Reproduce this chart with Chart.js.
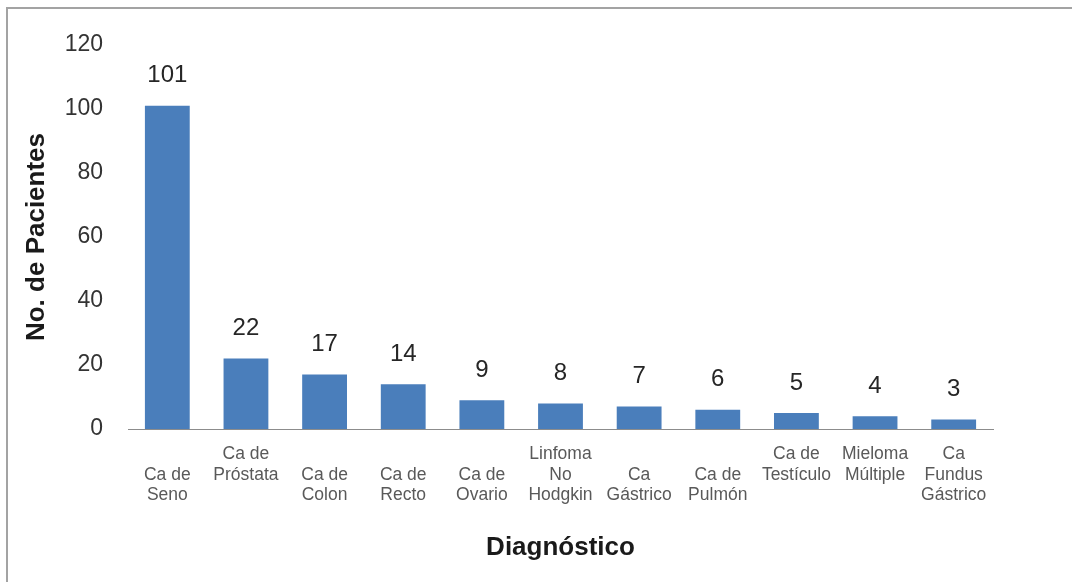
<!DOCTYPE html>
<html>
<head>
<meta charset="utf-8">
<script src="https://cdn.jsdelivr.net/npm/chart.js@4"></script>
<style>
  html, body { margin: 0; padding: 0; background: #ffffff; overflow: hidden; }
  #frame { position: absolute; left: 6px; top: 7px; width: 1200px; height: 700px;
           border-top: 2px solid #a3a3a3; border-left: 2px solid #a3a3a3; }
  #c { position: absolute; left: 0; top: 0; }
</style>
</head>
<body>
<div id="frame"></div>
<canvas id="c" width="1072" height="582"></canvas>
<script>
// ---- data ----
const categories = [
  ["", "Ca de", "Seno"],
  ["Ca de", "Próstata", ""],
  ["", "Ca de", "Colon"],
  ["", "Ca de", "Recto"],
  ["", "Ca de", "Ovario"],
  ["Linfoma", "No", "Hodgkin"],
  ["", "Ca", "Gástrico"],
  ["", "Ca de", "Pulmón"],
  ["Ca de", "Testículo", ""],
  ["Mieloma", "Múltiple", ""],
  ["Ca", "Fundus", "Gástrico"]
];
const patients = [101, 22, 17, 14, 9, 8, 7, 6, 5, 4, 3];
const yTickValues = [0, 20, 40, 60, 80, 100, 120];
const xTitle = "Diagnóstico";
const yTitle = "No. de Pacientes";

const FONT = "'Liberation Sans', Arial, Helvetica, sans-serif";

const valueLabels = {
  id: 'valueLabels',
  afterDatasetsDraw(chart) {
    const ctx = chart.ctx;
    const meta = chart.getDatasetMeta(0);
    ctx.save();
    ctx.font = "24px " + FONT;
    ctx.fillStyle = "#262626";
    ctx.textAlign = "center";
    ctx.textBaseline = "middle";
    meta.data.forEach((bar, i) => {
      ctx.fillText(String(chart.data.datasets[0].data[i]), bar.x, bar.y - 30);
    });
    ctx.restore();
  }
};

new Chart(document.getElementById('c'), {
  type: 'bar',
  data: {
    labels: categories,
    datasets: [{
      data: patients,
      backgroundColor: '#4A7EBB',
      borderColor: '#4A7EBB',
      borderWidth: 0,
      categoryPercentage: 1,
      barPercentage: 0.57
    }]
  },
  options: {
    responsive: false,
    animation: false,
    events: [],
    layout: { padding: { left: 10, right: 79, top: 45, bottom: 0 } },
    plugins: {
      legend: { display: false },
      tooltip: { enabled: false },
      title: { display: false }
    },
    scales: {
      x: {
        grid: { display: false, drawTicks: false },
        border: { display: true, color: '#8c8c8c', width: 1 },
        ticks: {
          autoSkip: false, maxRotation: 0, minRotation: 0,
          padding: 15,
          color: '#595959',
          font: { family: FONT, size: 17.5, lineHeight: 1.18 }
        },
        title: {
          display: true, text: xTitle, color: '#1a1a1a',
          font: { family: FONT, size: 26, weight: 'bold', lineHeight: 1.2 },
          padding: { top: 0, bottom: 19 }
        },
        afterFit(scale) { scale.height = 582 - 429; }
      },
      y: {
        min: 0, max: 120,
        afterBuildTicks(scale) { scale.ticks = yTickValues.map(v => ({ value: v })); },
        grid: { display: false, drawTicks: false },
        border: { display: false },
        ticks: {
          padding: 25,
          color: '#333333',
          font: { family: FONT, size: 23 }
        },
        title: {
          display: true, text: yTitle, color: '#1a1a1a',
          font: { family: FONT, size: 26, weight: 'bold', lineHeight: 1.2 },
          padding: { top: 11, bottom: 0 }
        },
        afterFit(scale) { scale.width = 128 - 10; }
      }
    }
  },
  plugins: [valueLabels]
});
</script>
</body>
</html>
